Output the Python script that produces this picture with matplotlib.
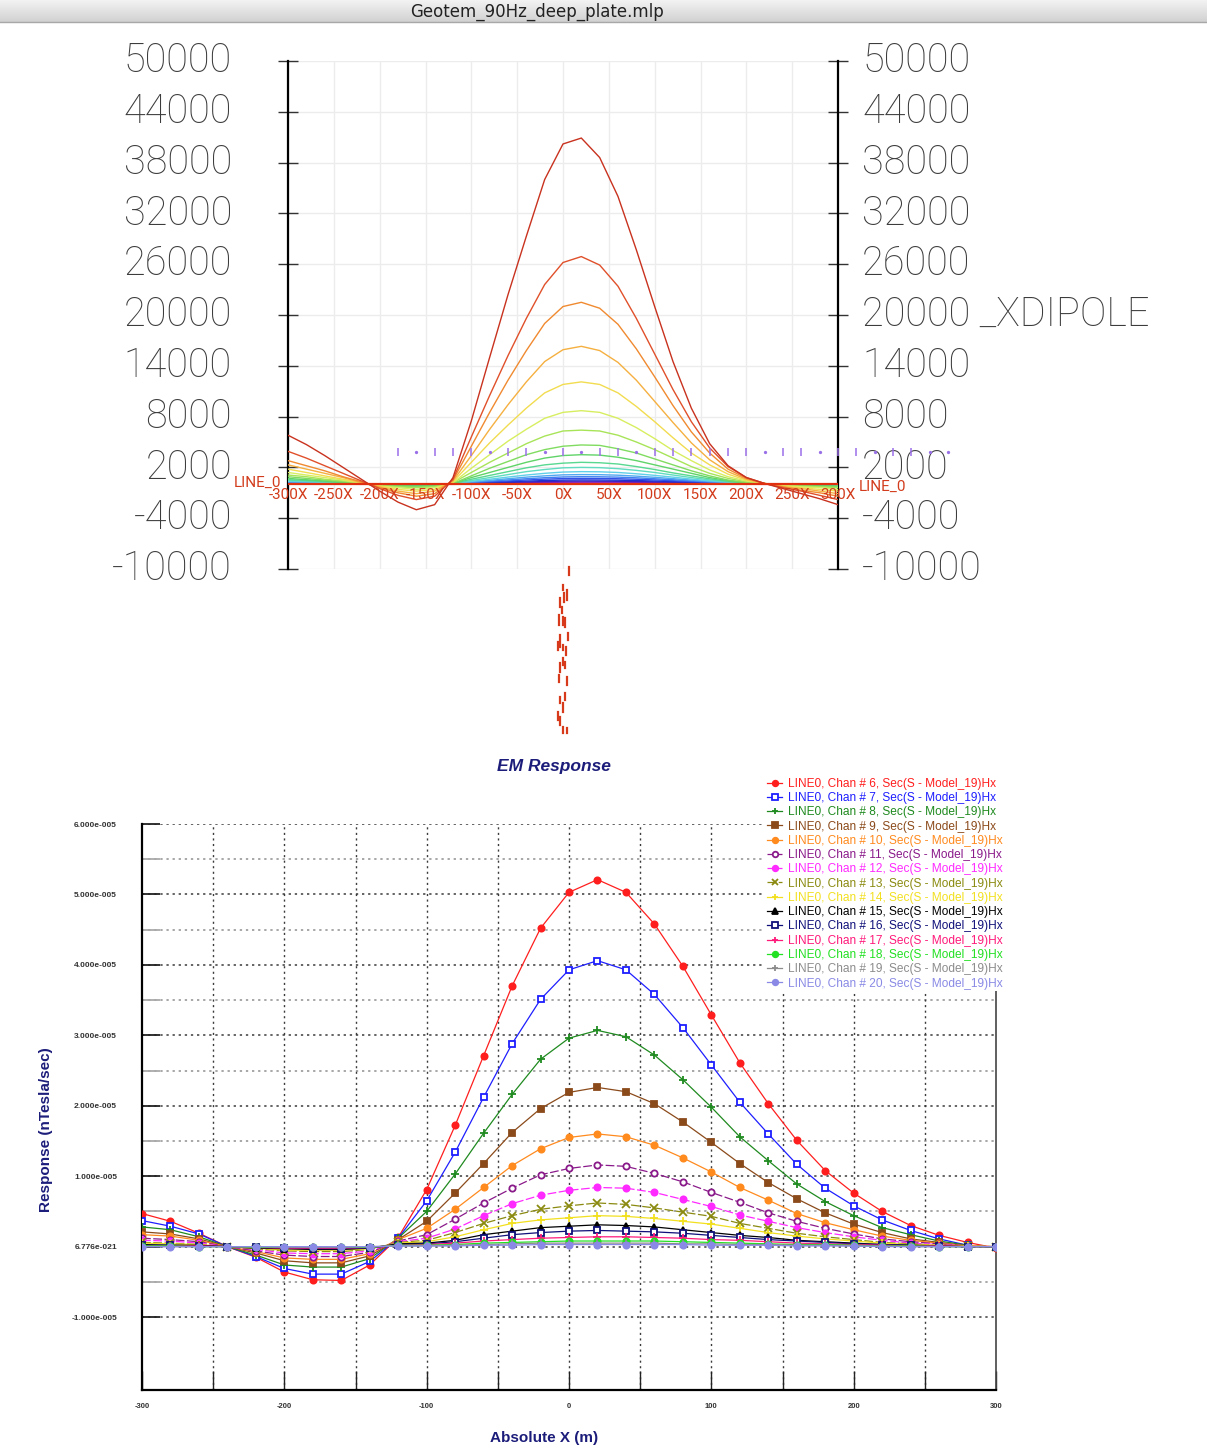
import numpy as np
import matplotlib
matplotlib.use("Agg")
import matplotlib.pyplot as plt
from matplotlib.transforms import offset_copy

W, H = 1207, 1454

# ------------------------------------------------------------------ data (top plot, values in thousands)
top_x = [-300, -280, -260, -240, -220, -200, -180, -160, -140, -120, -100, -80, -60, -40, -20, 0,
         20, 40, 60, 80, 100, 120, 140, 160, 180, 200, 220, 240, 260, 280, 300]
t01 = [5.8, 4.7, 3.4, 2.0, 0.6, -0.8, -2.1, -3.0, -2.4, 0.8, 7.5, 15.0, 22.4, 29.3, 36.0, 40.2, 40.9, 38.6, 34.0, 27.7, 21.0, 14.5, 9.0, 4.8, 2.2, 0.8, 0.1, -0.5, -1.1, -1.7, -2.4]
t02 = [3.9, 3.1, 2.2, 1.3, 0.4, -0.5, -1.3, -1.8, -1.4, 0.6, 5.6, 10.5, 15.2, 19.6, 23.6, 26.2, 26.9, 25.9, 23.4, 19.6, 15.4, 11.2, 7.4, 4.3, 2.1, 0.8, 0.1, -0.4, -0.8, -1.3, -1.8]
t03 = [2.8, 2.2, 1.6, 0.9, 0.3, -0.4, -1.0, -1.4, -1.1, 0.5, 4.5, 8.5, 12.3, 15.8, 19.0, 21.0, 21.5, 20.8, 18.9, 16.0, 12.7, 9.3, 6.2, 3.7, 1.8, 0.7, 0.1, -0.3, -0.7, -1.0, -1.4]
t04 = [2.3, 1.8, 1.3, 0.8, 0.2, -0.3, -0.8, -1.1, -0.8, 0.4, 3.4, 6.5, 9.4, 12.1, 14.5, 15.9, 16.3, 15.8, 14.4, 12.3, 9.8, 7.3, 4.9, 2.9, 1.5, 0.6, 0.1, -0.3, -0.5, -0.8, -1.1]
t05 = [1.8, 1.4, 1.0, 0.6, 0.2, -0.2, -0.6, -0.8, -0.6, 0.3, 2.6, 4.9, 7.0, 9.0, 10.8, 11.8, 12.1, 11.8, 10.8, 9.2, 7.4, 5.5, 3.7, 2.3, 1.2, 0.5, 0.1, -0.2, -0.4, -0.6, -0.8]
t06 = [1.4, 1.1, 0.8, 0.5, 0.1, -0.2, -0.4, -0.6, -0.4, 0.2, 1.9, 3.5, 5.1, 6.5, 7.8, 8.5, 8.7, 8.5, 7.8, 6.7, 5.4, 4.0, 2.8, 1.7, 0.9, 0.4, 0.1, -0.1, -0.3, -0.4, -0.6]
t07 = [1.1, 0.9, 0.6, 0.4, 0.1, -0.1, -0.3, -0.4, -0.3, 0.2, 1.4, 2.6, 3.7, 4.8, 5.7, 6.3, 6.4, 6.3, 5.8, 5.0, 4.1, 3.1, 2.1, 1.3, 0.7, 0.3, 0.1, -0.1, -0.2, -0.3, -0.4]
t08 = [0.9, 0.7, 0.5, 0.3, 0.1, -0.1, -0.2, -0.3, -0.2, 0.1, 1.0, 1.9, 2.7, 3.5, 4.1, 4.5, 4.65, 4.6, 4.2, 3.7, 3.0, 2.3, 1.6, 1.0, 0.5, 0.2, 0.05, -0.1, -0.2, -0.25, -0.3]
t09 = [0.7, 0.55, 0.4, 0.25, 0.08, -0.05, -0.15, -0.2, -0.15, 0.1, 0.8, 1.4, 2.0, 2.6, 3.1, 3.4, 3.5, 3.45, 3.2, 2.8, 2.3, 1.8, 1.3, 0.8, 0.45, 0.2, 0.05, -0.05, -0.12, -0.18, -0.25]
t10 = [0.55, 0.45, 0.33, 0.2, 0.07, -0.04, -0.12, -0.16, -0.12, 0.08, 0.6, 1.05, 1.5, 1.95, 2.3, 2.5, 2.6, 2.55, 2.4, 2.1, 1.75, 1.35, 1.0, 0.65, 0.35, 0.15, 0.04, -0.04, -0.1, -0.14, -0.2]
t11 = [0.45, 0.37, 0.27, 0.17, 0.06, -0.03, -0.1, -0.13, -0.1, 0.07, 0.45, 0.8, 1.15, 1.5, 1.75, 1.95, 2.0, 1.97, 1.85, 1.65, 1.4, 1.1, 0.8, 0.52, 0.3, 0.13, 0.03, -0.03, -0.08, -0.11, -0.15]
t12 = [0.36, 0.3, 0.22, 0.14, 0.05, -0.02, -0.08, -0.1, -0.08, 0.05, 0.35, 0.6, 0.86, 1.1, 1.3, 1.45, 1.5, 1.48, 1.4, 1.25, 1.06, 0.85, 0.62, 0.41, 0.24, 0.1, 0.03, -0.02, -0.06, -0.09, -0.12]
t13 = [0.3, 0.25, 0.18, 0.11, 0.04, -0.02, -0.06, -0.08, -0.06, 0.04, 0.27, 0.47, 0.66, 0.85, 1.0, 1.12, 1.15, 1.14, 1.08, 0.97, 0.83, 0.67, 0.5, 0.33, 0.2, 0.09, 0.02, -0.02, -0.05, -0.07, -0.1]
t14 = [0.25, 0.2, 0.15, 0.09, 0.03, -0.01, -0.05, -0.06, -0.05, 0.03, 0.21, 0.37, 0.52, 0.66, 0.78, 0.87, 0.9, 0.89, 0.85, 0.77, 0.66, 0.54, 0.4, 0.27, 0.16, 0.07, 0.02, -0.02, -0.04, -0.06, -0.08]
t15 = [0.2, 0.16, 0.12, 0.07, 0.02, -0.01, -0.04, -0.05, -0.04, 0.02, 0.16, 0.29, 0.4, 0.51, 0.61, 0.68, 0.7, 0.69, 0.66, 0.6, 0.52, 0.43, 0.32, 0.22, 0.13, 0.06, 0.02, -0.01, -0.03, -0.05, -0.06]
t16 = [0.15, 0.12, 0.09, 0.05, 0.02, -0.01, -0.03, -0.04, -0.03, 0.02, 0.12, 0.21, 0.3, 0.38, 0.45, 0.5, 0.52, 0.51, 0.49, 0.45, 0.39, 0.32, 0.24, 0.17, 0.1, 0.05, 0.01, -0.01, -0.02, -0.04, -0.05]
t17 = [0.11, 0.09, 0.07, 0.04, 0.01, -0.01, -0.02, -0.03, -0.02, 0.01, 0.09, 0.15, 0.22, 0.28, 0.33, 0.37, 0.38, 0.37, 0.36, 0.33, 0.29, 0.24, 0.18, 0.12, 0.07, 0.03, 0.01, -0.01, -0.02, -0.03, -0.04]
t18 = [0.08, 0.06, 0.05, 0.03, 0.01, 0.0, -0.02, -0.02, -0.02, 0.01, 0.06, 0.1, 0.15, 0.19, 0.23, 0.25, 0.26, 0.26, 0.25, 0.23, 0.2, 0.16, 0.12, 0.08, 0.05, 0.02, 0.01, 0.0, -0.01, -0.02, -0.03]
t19 = [0.05, 0.04, 0.03, 0.02, 0.01, 0.0, -0.01, -0.01, -0.01, 0.01, 0.04, 0.06, 0.09, 0.12, 0.14, 0.16, 0.16, 0.16, 0.15, 0.14, 0.12, 0.1, 0.08, 0.05, 0.03, 0.01, 0.0, 0.0, -0.01, -0.01, -0.02]
t20 = [0.03, 0.02, 0.02, 0.01, 0.0, 0.0, 0.0, -0.01, 0.0, 0.0, 0.02, 0.03, 0.05, 0.06, 0.07, 0.08, 0.08, 0.08, 0.08, 0.07, 0.06, 0.05, 0.04, 0.03, 0.02, 0.01, 0.0, 0.0, 0.0, -0.01, -0.01]
top_series = [t01, t02, t03, t04, t05, t06, t07, t08, t09, t10,
              t11, t12, t13, t14, t15, t16, t17, t18, t19, t20]
top_colors = ['#c8321e', '#e0502a', '#f08a30', '#f5b040', '#f2dc50', '#d8ee60', '#a8e458', '#80dc60',
              '#60d468', '#58d890', '#60dcc0', '#60d0e8', '#50a8f0', '#4080f0', '#3050e8', '#2030d0',
              '#4020c0', '#8020c0', '#c020c0', '#e020a0']
top_yticks = [50000, 44000, 38000, 32000, 26000, 20000, 14000, 8000, 2000, -4000, -10000]
top_left_labels = ['50000', '44000', '38000', '32000', '26000', '20000', '14000', '8000', '2000', '-4000', '-10000']
top_right_labels = ['50000', '44000', '38000', '32000', '26000', '20000 _XDIPOLE', '14000', '8000', '2000', '-4000', '-10000']
top_xticks = [-300, -250, -200, -150, -100, -50, 0, 50, 100, 150, 200, 250, 300]
top_xlabels = ['-300X', '-250X', '-200X', '-150X', '-100X', '-50X', '0X', '50X', '100X', '150X', '200X', '250X', '300X']
dip_x = [-180, -160, -140, -120, -100, -80, -60, -40, -20, 0, 20, 40, 60, 80, 100, 120,
         140, 160, 180, 200, 220, 240, 260, 280, 300, 320, 340, 360, 380, 400, 420]
dip_y = [3800, 3800, 3800, 3800, 3800, 3800, 3800, 3800, 3800, 3800, 3800, 3800, 3800, 3800, 3800, 3800,
         3800, 3800, 3800, 3800, 3800, 3800, 3800, 3800, 3800, 3800, 3800, 3800, 3800, 3800, 3800]
dip_mark = ['|', '.', '|', '|', '|', '.', '|', '|', '.', '|', '.', '|', '|', '.', '|', '|',
            '|', '|', '|', '|', '.', '|', '|', '.', '|', '|', '.', '|', '|', '.', '.']

# ------------------------------------------------------------------ data (EM response, units of 1e-5 nT/s)
em_x = [-300, -280, -260, -240, -220, -200, -180, -160, -140, -120, -100, -80, -60, -40, -20, 0,
        20, 40, 60, 80, 100, 120, 140, 160, 180, 200, 220, 240, 260, 280, 300]
ch06 = [0.47, 0.36, 0.19, 0.0, -0.15, -0.36, -0.47, -0.48, -0.26, 0.13, 0.81, 1.72, 2.71, 3.70, 4.52, 5.03, 5.21, 5.03, 4.58, 3.98, 3.29, 2.61, 2.03, 1.51, 1.08, 0.76, 0.50, 0.30, 0.16, 0.06, -0.02]
ch07 = [0.37, 0.29, 0.18, 0.0, -0.14, -0.31, -0.39, -0.39, -0.21, 0.12, 0.65, 1.34, 2.12, 2.88, 3.51, 3.93, 4.06, 3.93, 3.58, 3.11, 2.58, 2.05, 1.60, 1.17, 0.83, 0.58, 0.38, 0.23, 0.11, 0.02, -0.01]
ch08 = [0.28, 0.24, 0.14, 0.0, -0.12, -0.26, -0.29, -0.29, -0.17, 0.12, 0.50, 1.03, 1.61, 2.16, 2.66, 2.96, 3.07, 2.98, 2.72, 2.37, 1.98, 1.56, 1.22, 0.89, 0.64, 0.44, 0.27, 0.17, 0.08, 0.02, -0.01]
ch09 = [0.21, 0.18, 0.11, 0.0, -0.09, -0.20, -0.23, -0.23, -0.13, 0.10, 0.36, 0.76, 1.18, 1.62, 1.96, 2.19, 2.26, 2.20, 2.03, 1.77, 1.48, 1.18, 0.91, 0.68, 0.48, 0.32, 0.20, 0.11, 0.06, 0.01, -0.01]
ch10 = [0.17, 0.15, 0.09, 0.0, -0.07, -0.16, -0.18, -0.18, -0.10, 0.10, 0.26, 0.53, 0.84, 1.15, 1.39, 1.55, 1.60, 1.56, 1.44, 1.26, 1.06, 0.84, 0.66, 0.47, 0.34, 0.24, 0.15, 0.09, 0.05, 0.01, 0.0]
ch11 = [0.12, 0.10, 0.07, 0.0, -0.06, -0.12, -0.14, -0.14, -0.08, 0.08, 0.17, 0.39, 0.62, 0.83, 1.02, 1.11, 1.16, 1.14, 1.04, 0.92, 0.77, 0.63, 0.48, 0.36, 0.26, 0.18, 0.11, 0.07, 0.04, 0.01, 0.0]
ch12 = [0.09, 0.08, 0.05, 0.0, -0.04, -0.09, -0.10, -0.10, -0.06, 0.07, 0.12, 0.25, 0.44, 0.61, 0.73, 0.80, 0.84, 0.83, 0.77, 0.67, 0.57, 0.45, 0.36, 0.27, 0.20, 0.14, 0.09, 0.05, 0.03, 0.01, 0.0]
ch13 = [0.06, 0.05, 0.03, 0.0, -0.03, -0.06, -0.07, -0.07, -0.04, 0.06, 0.09, 0.20, 0.33, 0.44, 0.53, 0.58, 0.62, 0.60, 0.55, 0.49, 0.43, 0.33, 0.26, 0.19, 0.14, 0.10, 0.06, 0.04, 0.02, 0.01, 0.0]
ch14 = [0.05, 0.04, 0.03, 0.0, -0.02, -0.05, -0.05, -0.05, -0.03, 0.05, 0.07, 0.14, 0.24, 0.33, 0.38, 0.41, 0.44, 0.43, 0.40, 0.36, 0.32, 0.26, 0.20, 0.15, 0.11, 0.08, 0.05, 0.03, 0.02, 0.01, 0.0]
ch15 = [0.03, 0.02, 0.02, 0.0, -0.02, -0.03, -0.04, -0.04, -0.02, 0.04, 0.05, 0.09, 0.17, 0.22, 0.27, 0.29, 0.31, 0.30, 0.28, 0.24, 0.20, 0.16, 0.13, 0.09, 0.07, 0.05, 0.03, 0.02, 0.01, 0.0, 0.0]
ch16 = [0.02, 0.02, 0.01, 0.0, -0.01, -0.02, -0.03, -0.03, -0.02, 0.03, 0.04, 0.07, 0.12, 0.17, 0.20, 0.22, 0.23, 0.22, 0.21, 0.19, 0.16, 0.13, 0.10, 0.08, 0.06, 0.04, 0.03, 0.02, 0.01, 0.0, 0.0]
ch17 = [0.01, 0.01, 0.01, 0.0, -0.01, -0.02, -0.02, -0.02, -0.01, 0.02, 0.03, 0.05, 0.08, 0.10, 0.12, 0.13, 0.14, 0.14, 0.13, 0.12, 0.10, 0.09, 0.07, 0.05, 0.04, 0.03, 0.02, 0.01, 0.01, 0.0, 0.0]
ch18 = [0.01, 0.01, 0.0, 0.0, -0.01, -0.01, -0.01, -0.01, -0.01, 0.02, 0.02, 0.03, 0.05, 0.06, 0.07, 0.08, 0.08, 0.08, 0.08, 0.07, 0.06, 0.05, 0.04, 0.03, 0.03, 0.02, 0.01, 0.01, 0.0, 0.0, 0.0]
ch19 = [0.0, 0.0, 0.0, 0.0, 0.0, -0.01, -0.01, -0.01, 0.0, 0.01, 0.01, 0.02, 0.03, 0.04, 0.05, 0.05, 0.05, 0.05, 0.05, 0.04, 0.04, 0.03, 0.03, 0.02, 0.02, 0.01, 0.01, 0.0, 0.0, 0.0, 0.0]
ch20 = [0.0, 0.0, 0.0, 0.0, 0.0, 0.0, 0.0, 0.0, 0.0, 0.01, 0.01, 0.01, 0.02, 0.02, 0.03, 0.03, 0.03, 0.03, 0.03, 0.03, 0.02, 0.02, 0.02, 0.01, 0.01, 0.01, 0.0, 0.0, 0.0, 0.0, 0.0]
chan_ids = [6, 7, 8, 9, 10, 11, 12, 13, 14, 15, 16, 17, 18, 19, 20]
chan_vals = [ch06, ch07, ch08, ch09, ch10, ch11, ch12, ch13, ch14, ch15, ch16, ch17, ch18, ch19, ch20]
chan_colors = ['#ff1e1e', '#1e1eff', '#1f8a1f', '#8b4a1a', '#ff8a1e', '#8a1a8a', '#ff2aff', '#8a8a10',
               '#f2e020', '#000000', '#10107a', '#ff1a7a', '#22e022', '#8c8c8c', '#8a8ae6']
chan_markers = ['o', 's', '+', 's', 'o', 'o', 'o', 'x', '+', '^', 's', '+', 'o', '+', 'o']
chan_mfc = ['full', 'white', 'full', 'full', 'full', 'white', 'full', 'full', 'full', 'full', 'white',
            'full', 'full', 'full', 'full']
em_yticks = [-1.0, 0.0, 1.0, 2.0, 3.0, 4.0, 5.0, 6.0]
em_ylabels = ['-1.000e-005', '6.776e-021', '1.000e-005', '2.000e-005', '3.000e-005', '4.000e-005',
              '5.000e-005', '6.000e-005']
em_xticks = [-300, -200, -100, 0, 100, 200, 300]

# red scribble below the top plot (pixel segments x, y0, y1)
scrib_x = [569, 563, 567, 564, 560, 562, 559, 563, 565, 568, 560, 558, 563, 566, 563, 560, 565, 559, 567, 565, 560, 563, 558, 560, 563, 567]
scrib_y0 = [567, 585, 590, 593, 598, 607, 615, 617, 618, 633, 635, 642, 645, 647, 658, 663, 662, 675, 677, 693, 697, 703, 712, 717, 727, 728]
scrib_y1 = [575, 590, 600, 602, 607, 613, 625, 625, 627, 640, 647, 650, 650, 655, 665, 672, 668, 682, 685, 700, 703, 712, 720, 725, 733, 733]

# ------------------------------------------------------------------ figure
fig = plt.figure(figsize=(W / 100, H / 100), dpi=100)
fig.patch.set_facecolor('white')

def fx(px):
    return px / W

def fy(py):
    return 1 - py / H

seg_font = ['Roboto', 'DejaVu Sans']
red_txt = '#d23c1c'

# ---------------- top plot
ax1 = fig.add_axes([fx(288), fy(569), fx(838) - fx(288), fy(61) - fy(569)])
ax1.set_xlim(-300, 300)
ax1.set_ylim(-10000, 50000)
for s in ['top', 'bottom']:
    ax1.spines[s].set_visible(False)
for s in ['left', 'right']:
    ax1.spines[s].set_color('black')
    ax1.spines[s].set_linewidth(1.6)
ax1.set_yticks(top_yticks)
ax1.set_xticks(top_xticks)
ax1.tick_params(axis='y', which='both', left=True, right=True, direction='inout', length=14,
                width=1.0, labelleft=False, labelright=False, color='#333333')
ax1.tick_params(axis='x', bottom=False, labelbottom=False)
ax1.grid(True, color='#ececec', linewidth=1.0)
ax1.set_axisbelow(True)

xs = np.array(top_x)
for vals, col in zip(top_series[::-1], top_colors[::-1]):
    ax1.plot(xs, np.array(vals) * 1000.0, color=col, lw=1.0, zorder=3)
ax1.axhline(0, color='#e03010', lw=1.6, zorder=4)

for xv, mk, yv in zip(dip_x, dip_mark, dip_y):
    ax1.plot([xv], [yv], marker=mk, color='#9a70e8', ms=6 if mk == '|' else 2.5, mew=1.1,
             clip_on=False, zorder=5)

ytr = ax1.get_yaxis_transform()
for yv, lab in zip(top_yticks, top_left_labels):
    ax1.text(-0.102, yv, lab, transform=ytr, ha='right', va='center', fontsize=28.5,
             family=seg_font, fontweight='light', color='#3c3c3c')
for yv, lab in zip(top_yticks, top_right_labels):
    ax1.text(1.044, yv, lab, transform=ytr, ha='left', va='center', fontsize=28.5,
             family=seg_font, fontweight='light', color='#3c3c3c')

tr_lab = offset_copy(ax1.transData, fig=fig, x=0, y=-11, units='dots')
for xv, lab in zip(top_xticks, top_xlabels):
    ax1.text(xv, 0, lab, transform=tr_lab, ha='center', va='center', fontsize=11,
             family=seg_font, color=red_txt, clip_on=False)
tr_l = offset_copy(ax1.transData, fig=fig, x=-7, y=1, units='dots')
ax1.text(-300, 0, 'LINE_0', transform=tr_l, ha='right', va='center', fontsize=11,
         family=seg_font, color=red_txt)
tr_r = offset_copy(ax1.transData, fig=fig, x=21, y=-3, units='dots')
ax1.text(300, 0, 'LINE_0', transform=tr_r, ha='left', va='center', fontsize=11,
         family=seg_font, color=red_txt)

# ---------------- bottom plot
ax2 = fig.add_axes([fx(142), fy(1390), fx(996) - fx(142), fy(824) - fy(1390)])
ax2.set_xlim(-300, 300)
ax2.set_ylim(-2.035e-5, 6.0e-5)
ax2.spines['top'].set_visible(False)
ax2.spines['left'].set_linewidth(1.6)
ax2.spines['bottom'].set_linewidth(1.6)
ax2.spines['right'].set_linewidth(1.2)
ax2.spines['right'].set_color('#444444')

for gy in [-1.0, 0.0, 1.0, 2.0, 3.0, 4.0, 5.0, 6.0]:
    ax2.axhline(gy * 1e-5, color='#3a3a3a', lw=1.1, ls=(0, (1.5, 2.5)), zorder=1)
for gy in [-0.5, 0.5, 1.5, 2.5, 3.5, 4.5, 5.5]:
    ax2.axhline(gy * 1e-5, color='#909090', lw=1.1, ls=(0, (1.5, 2.5)), zorder=1)
for gx in [-250, -200, -150, -100, -50, 0, 50, 100, 150, 200, 250]:
    ax2.axvline(gx, color='#3a3a3a', lw=1.0, ls=(0, (1.5, 2.5)), zorder=1)

ax2.set_yticks([v * 1e-5 for v in em_yticks])
ax2.set_yticklabels(em_ylabels)
ax2.set_yticks([v * 1e-5 for v in [-0.5, 0.5, 1.5, 2.5, 3.5, 4.5, 5.5]], minor=True)
ax2.set_xticks(em_xticks)
ax2.set_xticklabels([str(v) for v in em_xticks])
ax2.set_xticks([-250, -150, -50, 50, 150, 250], minor=True)
ax2.tick_params(axis='y', which='major', direction='in', length=13, width=1.3, color='#222222',
                pad=18, labelsize=6, labelcolor='#333333')
ax2.tick_params(axis='y', which='minor', direction='in', length=13, width=1.3, color='#aaaaaa')
ax2.tick_params(axis='x', which='both', direction='in', length=14, width=1.0, color='#222222',
                pad=9, labelsize=5.5, labelcolor='#333333')
for lab in ax2.get_yticklabels() + ax2.get_xticklabels():
    lab.set_fontweight('bold')
    lab.set_family('Liberation Sans')

ex = np.array(em_x)
handles = []
for cid, vals, col, mk, mf in zip(chan_ids, chan_vals, chan_colors, chan_markers, chan_mfc):
    mfc = 'white' if mf == 'white' else col
    ms = 4.5 if mk in ('s', 'o', '^') else 6
    ls = (0, (7, 2)) if cid in (11, 12, 13) else '-'
    ln, = ax2.plot(ex, np.array(vals) * 1e-5, color=col, lw=0.9, ls=ls, marker=mk, ms=ms,
                   mfc=mfc, mec=col, mew=1.3, zorder=3,
                   label='LINE0, Chan # %d, Sec(S - Model_19)Hx' % cid)
    handles.append(ln)

leg = ax2.legend(handles=handles, loc='upper left', bbox_to_anchor=(fx(765), fy(776)),
                 bbox_transform=fig.transFigure, frameon=True, framealpha=1.0, facecolor='white',
                 edgecolor='none', fancybox=False, borderpad=0.15, borderaxespad=0,
                 labelspacing=0.19, handlelength=1.3, handletextpad=0.45,
                 prop={'family': 'Liberation Sans', 'size': 8.6})
leg.set_zorder(10)
for txt, col in zip(leg.get_texts(), chan_colors):
    txt.set_color(col)
for lh in leg.legend_handles:
    lh.set_markersize(4)

fig.text(fx(554), fy(766), 'EM Response', ha='center', va='center', fontsize=12.5,
         fontweight='bold', fontstyle='italic', family='Liberation Sans', color='#1c1c7a')
fig.text(fx(544), fy(1438), 'Absolute X (m)', ha='center', va='center', fontsize=11,
         fontweight='bold', family='Liberation Sans', color='#1c1c7a')
fig.text(fx(46), fy(1130), 'Response (nTesla/sec)', ha='center', va='center', fontsize=11,
         fontweight='bold', family='Liberation Sans', color='#1c1c7a', rotation=90)

# ---------------- overlay: title bar and scribble
axp = fig.add_axes([0, 0, 1, 1])
axp.set_xlim(0, W)
axp.set_ylim(H, 0)
axp.axis('off')
grad = np.linspace(0.95, 0.82, 50).reshape(-1, 1)
axp.imshow(grad, cmap='gray', vmin=0, vmax=1, extent=[0, W, 22, 0], aspect='auto', zorder=1)
axp.plot([0, W], [22, 22], color='#a8a8a8', lw=1.0, zorder=2)
axp.text(537, 11.5, 'Geotem_90Hz_deep_plate.mlp', ha='center', va='center', fontsize=12,
         family='DejaVu Sans', color='#222222', zorder=3)
for sx, s0, s1 in zip(scrib_x, scrib_y0, scrib_y1):
    axp.plot([sx, sx], [s0, s1], color='#d63a1a', lw=1.6, zorder=2)

fig.savefig('out.png', dpi=100, facecolor='white')
